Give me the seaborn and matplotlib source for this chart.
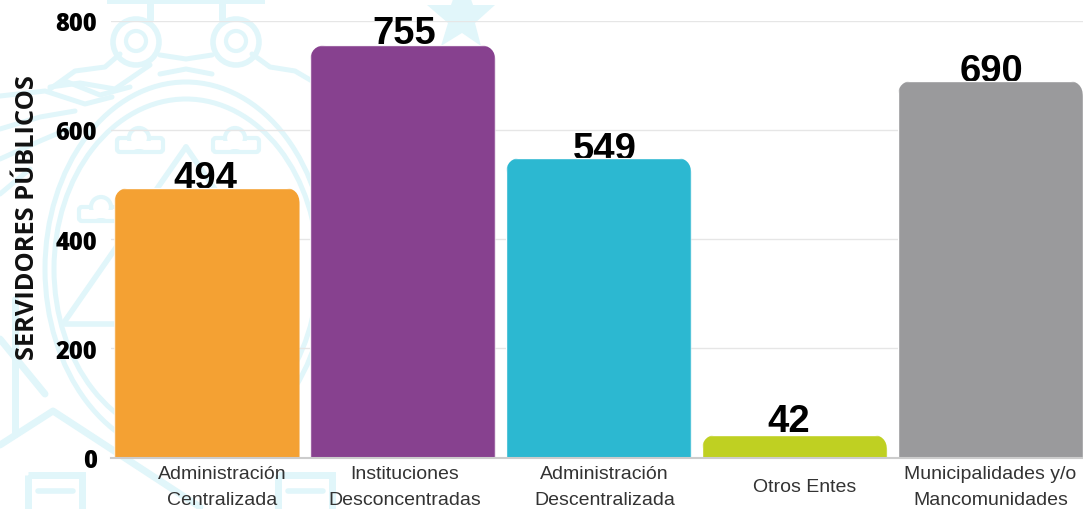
import pandas as pd
import seaborn as sns
import matplotlib.pyplot as plt
from matplotlib.patches import Circle, Ellipse, Polygon, Rectangle, FancyBboxPatch
from matplotlib.path import Path
from matplotlib.transforms import ScaledTranslation

# Data
categories = ['Administración\nCentralizada', 'Instituciones\nDesconcentradas',
              'Administración\nDescentralizada', 'Otros Entes',
              'Municipalidades y/o\nMancomunidades']
servidores = [494, 755, 549, 42, 690]
colors = ['#F4A133', '#87418F', '#2CB8D1', '#BFD022', '#9A9A9C']
yticks = [0, 200, 400, 600, 800]

# Label nudges in px, the original labels are not quite centred
cat_nudge = [15, 1.5, 6, 10, 0]
val_nudge_x = [-2, 1.5, 6, -6, 1]
val_nudge_y = [-1, 1, -2, 3, -1]

WM = '#E1F6FA'

df = pd.DataFrame({'categoria': categories, 'servidores': servidores})

sns.set_theme(style='white')
plt.rcParams['font.family'] = ['Liberation Sans', 'DejaVu Sans']

fig = plt.figure(figsize=(10.83, 5.10), dpi=100)

# Watermark layer, in pixel coordinates
bg = fig.add_axes([0, 0, 1, 1], zorder=0)
bg.set_xlim(0, 1083)
bg.set_ylim(510, 0)
bg.axis('off')


def wm_line(xs, ys, lw=3.6):
    bg.plot(xs, ys, color=WM, lw=lw, solid_capstyle='round', solid_joinstyle='round')


def wm_cloud(x, y):
    bg.add_patch(FancyBboxPatch((x - 20, y - 3), 40, 8, boxstyle='round,pad=3', fc='none', ec=WM, lw=3))
    bg.add_patch(Circle((x - 1, y - 6), 10, fc='white', ec=WM, lw=3))
    bg.add_patch(Rectangle((x - 17, y - 3), 36, 8, fc='white', ec='none', zorder=3))


# crown bar, posts and scrolls
bg.add_patch(Rectangle((107, -5), 158, 10, fc=WM, ec='none'))
wm_line([150, 150], [5, 20], 5)
wm_line([222, 222], [5, 20], 5)
for cx in (136, 236):
    bg.add_patch(Circle((cx, 43), 23, fc='none', ec=WM, lw=4))
    bg.add_patch(Circle((cx, 42), 10, fc='none', ec=WM, lw=3))
wm_line([160, 186, 212], [56, 60, 56])
wm_line([160, 186, 212], [75, 70, 75])

# wings
wm_line([120, 105, 75, 50], [55, 68, 72, 90])
wm_line([252, 270, 295, 312], [55, 68, 72, 82])
wm_line([50, 80, 115, 150], [88, 84, 90, 66])
wm_line([65, 100, 130], [82, 96, 88])
wm_line([0, 45, 85, 112], [97, 92, 105, 98])
wm_line([0, 40, 75], [130, 118, 112])
wm_line([0, 40, 68], [160, 142, 130])
wm_line([0, 30], [195, 170])

# emblem ovals
for a, b in ((282, 374), (264, 340)):
    bg.add_patch(Ellipse((186, 270), a, b, fc='none', ec=WM, lw=3.6))

# mountain and clouds
wm_line([186, 65], [148, 322], 4)
wm_line([186, 290], [148, 300], 4)
wm_line([65, 115], [325, 325], 4)
wm_cloud(140, 145)
wm_cloud(236, 145)
wm_cloud(102, 214)

# lower house outline and boxes
wm_line([0, 53, 200], [446, 412, 508], 5)
wm_line([15, 15], [300, 435], 5)
wm_line([0, 45], [340, 395], 5)
for x0 in (28, 278):
    bg.add_patch(Rectangle((x0, 476), 54, 50, fc='none', ec=WM, lw=5))
    wm_line([x0 + 10, x0 + 45], [492, 492], 4)

# star
bg.add_patch(Polygon([(462, -25), (473, 6), (495, 6), (475, 24), (481, 47),
                      (462, 34), (441, 47), (448, 24), (427, 6), (451, 6)],
                     fc=WM, ec='none'))

# Chart
ax = fig.add_axes([111 / 1083, 51.5 / 510, 972 / 1083, 437 / 510], zorder=1)
ax.patch.set_alpha(0)

sns.barplot(data=df, x='categoria', y='servidores', hue='categoria', palette=colors,
            legend=False, width=0.946, saturation=1, ax=ax, zorder=2)

ax.set_xlim(-0.49, 4.473)
ax.set_ylim(0, 800)
ax.set_yticks(yticks)
ax.yaxis.grid(True, color='#E6E6E6', lw=1.0)
ax.set_axisbelow(True)
sns.despine(ax=ax, left=True, right=True, top=True)
ax.spines['bottom'].set_color('#CCCCCC')
ax.spines['bottom'].set_linewidth(1.5)
ax.spines['bottom'].set_zorder(5)

ax.set_xlabel('')
ax.set_ylabel('SERVIDORES PÚBLICOS', family='Open Sans', fontweight='bold', fontsize=18.3, color='#111111')
ax.yaxis.set_label_coords((40 - 111) / 972, (458 - 217) / 437)

ax.tick_params(axis='y', length=0, pad=10, labelsize=17)
for lab in ax.get_yticklabels():
    lab.set_family('Open Sans')
    lab.set_fontweight('heavy')
    lab.set_color('black')

ax.tick_params(axis='x', length=0, pad=21, labelsize=14, labelcolor='#333333')
for lab in ax.get_xticklabels():
    lab.set_va('center')
    lab.set_ha('center')
    lab.set_linespacing(1.68)

# Round the top of the bars and move the tick labels sideways
rx, ry = 0.085, 30
for bar, lab, dx in zip(ax.patches, ax.get_xticklabels(), cat_nudge):
    x0, w, h = bar.get_x(), bar.get_width(), bar.get_height()
    x1 = x0 + w
    verts = [(x0, 0), (x0, h - ry), (x0, h), (x0 + rx, h), (x1 - rx, h), (x1, h), (x1, h - ry), (x1, 0), (x0, 0)]
    codes = [Path.MOVETO, Path.LINETO, Path.CURVE3, Path.CURVE3, Path.LINETO,
             Path.CURVE3, Path.CURVE3, Path.LINETO, Path.CLOSEPOLY]
    bar.set_clip_path(Path(verts, codes), transform=ax.transData)
    lab.set_transform(lab.get_transform() + ScaledTranslation(dx / 100, 0, fig.dpi_scale_trans))

# Value labels, sitting just behind the bars
for container, dx, dy in zip(ax.containers, val_nudge_x, val_nudge_y):
    for t in ax.bar_label(container, padding=-5, fontsize=27.5, fontweight='bold', color='black'):
        t.xyann = (dx * 0.72, t.xyann[1] + dy * 0.72)
        t.set_zorder(1)

fig.savefig('out.png', dpi=100, facecolor='white')
